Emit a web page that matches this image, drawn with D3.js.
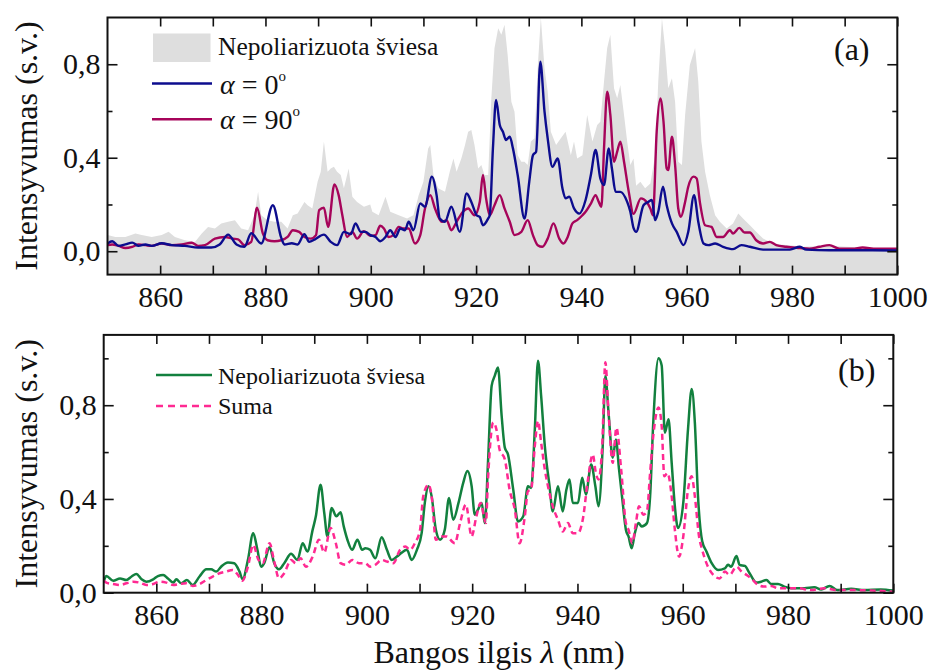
<!DOCTYPE html>
<html>
<head>
<meta charset="utf-8">
<script src="https://cdn.jsdelivr.net/npm/d3@7"></script>
<style>
    body { margin: 0; background: #fff; }
    text, tspan { font-family: "Liberation Serif", "Times New Roman", "DejaVu Serif", serif !important; }
</style>
</head>
<body>
<svg id="chart" width="931" height="670"></svg>
<script>
const SERIF = '"Liberation Serif", "Times New Roman", "DejaVu Serif", serif';

// Tick values
const xLabelTicks = [860, 880, 900, 920, 940, 960, 980, 1000];
const xMinorTicks = [870, 890, 910, 930, 950, 970, 990];
const yLabelTicks = [0, 0.4, 0.8];
const yMinorTicksA = [0.2, 0.6];
const yMinorTicksB = [0.2, 0.6, 1.0];

// Panel (a): unpolarized light (grey area), alpha = 0 deg, alpha = 90 deg  [nm, intensity]
const unpolarizedA = [[850,0.069],[851.5,0.061],[853.4,0.061],[855.3,0.076],[856.5,0.069],[858.4,0.061],[860.3,0.069],[861.6,0.083],[862.8,0.061],[864.7,0.047],[866.6,0.04],[867.9,0.076],[869.1,0.104],[870.4,0.097],[871.6,0.119],[872.9,0.126],[874.2,0.133],[875.4,0.097],[876.7,0.09],[877.9,0.154],[878.6,0.254],[879.2,0.154],[880.4,0.133],[881.7,0.126],[883.0,0.126],[884.2,0.097],[885.2,0.154],[886.1,0.161],[887.4,0.211],[888.0,0.197],[888.9,0.183],[889.9,0.297],[890.5,0.34],[891.1,0.469],[891.8,0.34],[892.4,0.354],[893.0,0.361],[893.6,0.34],[894.3,0.326],[894.9,0.269],[895.8,0.354],[896.5,0.233],[897.4,0.211],[898.7,0.19],[899.9,0.2],[900.3,0.169],[901.5,0.154],[902.8,0.233],[903.7,0.169],[905.3,0.154],[906.9,0.14],[908.1,0.154],[909.1,0.24],[910.0,0.297],[910.9,0.44],[911.3,0.454],[911.9,0.326],[912.8,0.269],[914.1,0.254],[915.0,0.34],[915.7,0.397],[916.3,0.34],[917.2,0.397],[917.9,0.454],[918.5,0.511],[919.1,0.519],[919.7,0.454],[920.4,0.354],[921.0,0.369],[921.6,0.326],[922.3,0.326],[922.9,0.654],[923.5,0.869],[924.2,0.954],[924.8,0.926],[925.4,0.969],[926.0,0.84],[926.7,0.64],[927.3,0.597],[927.9,0.411],[928.6,0.383],[929.2,0.383],[929.8,0.369],[930.4,0.469],[931.1,0.483],[931.7,0.783],[932.3,1.0],[933.0,0.783],[933.6,0.683],[934.2,0.511],[935.2,0.454],[936.1,0.483],[937.0,0.511],[938.0,0.411],[938.6,0.469],[939.2,0.397],[940.2,0.411],[941.1,0.583],[942.1,0.469],[943.0,0.54],[943.6,0.554],[944.3,0.726],[944.9,0.869],[945.5,0.926],[946.2,0.697],[946.8,0.654],[947.4,0.711],[948.1,0.583],[948.7,0.469],[949.3,0.369],[949.9,0.397],[950.4,0.28],[951.2,0.297],[952.1,0.269],[953.1,0.29],[954.0,0.411],[954.6,0.726],[955.3,0.997],[955.9,0.869],[956.5,0.697],[957.2,0.74],[957.8,0.64],[958.4,0.383],[959.1,0.369],[959.7,0.583],[960.6,0.797],[961.6,0.869],[962.2,0.726],[962.8,0.469],[963.5,0.34],[964.4,0.24],[965.4,0.154],[966.3,0.126],[967.6,0.097],[968.8,0.119],[969.8,0.161],[970.7,0.14],[972.0,0.111],[973.2,0.083],[974.5,0.054],[975.8,0.04],[977.7,0.029],[979.6,0.026],[982.1,0.019],[984.6,0.021],[987.1,0.023],[990.3,0.019],[993.4,0.016],[1000,0.011]];

const alpha0 = [[850,0.033],[850.9,0.043],[852.1,0.023],[853.4,0.029],[854.7,0.037],[855.9,0.023],[857.2,0.029],[858.4,0.023],[860.3,0.034],[862.2,0.026],[864.7,0.023],[867.2,0.016],[869.7,0.016],[871.3,0.029],[872.9,0.071],[874.5,0.029],[876.0,0.019],[877.3,0.077],[879.2,0.033],[881.4,0.197],[883.0,0.057],[883.6,0.029],[885.0,0.034],[886.1,0.029],[887.4,0.073],[888.3,0.04],[889.4,0.051],[891.1,0.071],[892.4,0.04],[893.6,0.026],[894.9,0.083],[896.2,0.073],[897.1,0.119],[898.1,0.083],[899.0,0.083],[899.9,0.069],[900.9,0.061],[901.8,0.043],[902.8,0.061],[903.7,0.09],[904.7,0.061],[905.6,0.097],[906.5,0.09],[907.2,0.126],[908.1,0.09],[909.4,0.204],[910.3,0.19],[911.6,0.319],[912.5,0.24],[913.1,0.14],[914.1,0.126],[915.3,0.19],[916.9,0.083],[918.2,0.247],[919.1,0.211],[920.1,0.154],[920.7,0.147],[921.3,0.111],[922.3,0.14],[922.6,0.154],[923.2,0.44],[923.8,0.647],[924.5,0.54],[925.1,0.511],[925.7,0.476],[926.4,0.49],[927.0,0.44],[927.9,0.326],[929.2,0.14],[930.1,0.297],[930.8,0.411],[931.4,0.426],[932.2,0.811],[933.0,0.597],[933.6,0.483],[934.5,0.361],[935.5,0.397],[936.4,0.269],[937.0,0.226],[937.7,0.233],[938.6,0.183],[939.6,0.161],[940.8,0.219],[941.8,0.326],[942.7,0.433],[943.6,0.311],[944.3,0.283],[945.2,0.44],[945.8,0.354],[946.5,0.254],[947.4,0.254],[948.7,0.211],[949.3,0.169],[949.9,0.1],[950.4,0.083],[951.8,0.197],[952.7,0.211],[953.4,0.219],[954.0,0.133],[954.6,0.169],[955.5,0.276],[956.2,0.197],[957.2,0.119],[958.1,0.083],[959.4,0.026],[960.3,0.083],[961.4,0.24],[962.2,0.126],[963.2,0.033],[964.1,0.026],[965.4,0.033],[966.9,0.019],[968.8,0.009],[970.4,0.026],[972.0,0.019],[974.5,0.007],[977.0,0.007],[979.6,0.007],[981.5,0.019],[982.7,0.007],[987.1,0.004],[993.4,0.004],[1000,0.003]];

const alpha90 = [[850,0.026],[850.9,0.029],[852.1,0.023],[853.4,0.014],[854.7,0.019],[855.9,0.029],[857.2,0.026],[858.4,0.023],[860.3,0.033],[862.2,0.026],[864.1,0.029],[866.0,0.036],[867.2,0.023],[868.5,0.026],[870.4,0.054],[872.3,0.061],[873.8,0.054],[874.8,0.051],[876.0,0.026],[877.3,0.04],[878.4,0.186],[879.5,0.076],[880.4,0.047],[881.7,0.043],[883.0,0.047],[884.2,0.061],[885.2,0.09],[886.4,0.083],[887.4,0.061],[888.6,0.054],[889.6,0.069],[890.2,0.176],[891.1,0.186],[891.9,0.104],[893.1,0.286],[893.9,0.24],[894.6,0.154],[895.5,0.061],[896.5,0.083],[897.4,0.054],[898.7,0.086],[899.9,0.066],[900.9,0.069],[901.8,0.109],[902.5,0.097],[903.4,0.061],[904.3,0.069],[905.3,0.104],[906.2,0.097],[907.2,0.097],[908.4,0.033],[909.4,0.069],[910.3,0.183],[911.3,0.24],[912.2,0.183],[913.5,0.126],[914.4,0.133],[915.3,0.09],[916.3,0.126],[917.5,0.169],[918.5,0.183],[919.7,0.154],[920.7,0.211],[921.3,0.326],[921.9,0.226],[922.6,0.154],[923.5,0.197],[924.5,0.24],[925.4,0.183],[926.4,0.126],[927.3,0.069],[928.6,0.083],[929.8,0.133],[930.8,0.069],[931.7,0.026],[932.6,0.019],[933.6,0.054],[934.7,0.119],[935.8,0.054],[936.6,0.033],[937.4,0.061],[938.3,0.119],[939.2,0.133],[940.2,0.154],[940.8,0.169],[941.8,0.204],[942.7,0.24],[943.3,0.211],[943.8,0.19],[944.3,0.44],[944.9,0.683],[945.5,0.583],[946.2,0.383],[946.8,0.426],[947.4,0.469],[948.1,0.383],[949.0,0.254],[949.9,0.16],[951.3,0.226],[952.4,0.211],[953.1,0.183],[953.6,0.154],[954.3,0.511],[955.0,0.654],[955.6,0.554],[956.2,0.354],[956.5,0.347],[957.2,0.49],[957.8,0.369],[958.4,0.183],[958.9,0.147],[959.7,0.211],[960.3,0.276],[961.3,0.319],[961.9,0.311],[962.5,0.211],[963.5,0.111],[964.7,0.104],[965.7,0.061],[966.9,0.061],[968.2,0.09],[968.8,0.076],[970.0,0.1],[971.0,0.08],[972.0,0.08],[973.2,0.047],[974.5,0.033],[975.8,0.04],[977.0,0.026],[978.9,0.019],[981.5,0.014],[983.3,0.011],[985.2,0.019],[987.1,0.026],[989.0,0.011],[991.5,0.011],[993.4,0.016],[996.0,0.011],[1000,0.011]];

// Panel (b): unpolarized light and sum  [nm, intensity]
const unpolarizedB = [[850,0.047],[850.5,0.071],[851.8,0.051],[853.1,0.061],[854.3,0.054],[855.3,0.069],[856.2,0.08],[857.2,0.057],[858.1,0.047],[859.4,0.057],[860.3,0.071],[861.3,0.076],[862.2,0.061],[863.2,0.043],[863.8,0.057],[864.7,0.04],[865.8,0.054],[866.9,0.033],[868.2,0.069],[869.5,0.1],[870.4,0.1],[871.4,0.09],[872.3,0.111],[873.6,0.129],[874.8,0.126],[875.8,0.09],[876.4,0.057],[877.4,0.14],[878.4,0.254],[879.2,0.183],[879.9,0.111],[880.5,0.126],[881.5,0.194],[882.4,0.126],[883.3,0.1],[884.3,0.126],[885.6,0.166],[886.8,0.14],[887.8,0.211],[888.7,0.176],[889.7,0.269],[890.3,0.326],[891.2,0.461],[891.9,0.34],[892.5,0.24],[893.3,0.361],[894.2,0.326],[895.0,0.343],[895.6,0.283],[896.3,0.226],[897.2,0.183],[898.2,0.226],[899.1,0.183],[899.7,0.19],[900.6,0.183],[901.6,0.147],[902.8,0.237],[903.8,0.183],[904.7,0.14],[905.7,0.154],[906.6,0.171],[907.6,0.183],[908.5,0.14],[909.5,0.183],[910.4,0.254],[911.0,0.383],[911.7,0.454],[912.3,0.411],[913.1,0.269],[913.9,0.226],[914.8,0.269],[915.6,0.404],[916.4,0.311],[917.4,0.383],[918.3,0.469],[919.1,0.519],[919.9,0.454],[920.5,0.333],[921.1,0.354],[921.8,0.383],[922.4,0.297],[923.0,0.554],[923.7,0.883],[924.3,0.926],[924.9,0.961],[925.6,0.754],[926.2,0.619],[926.8,0.59],[927.8,0.44],[928.7,0.304],[929.7,0.326],[930.6,0.454],[931.2,0.447],[931.9,0.697],[932.5,0.99],[933.1,0.84],[933.8,0.626],[934.7,0.454],[935.3,0.347],[936.3,0.454],[937.2,0.347],[937.9,0.44],[938.5,0.483],[939.1,0.383],[940.1,0.383],[940.9,0.49],[941.6,0.419],[942.6,0.547],[943.4,0.454],[944.0,0.369],[944.8,0.626],[945.3,0.926],[945.9,0.769],[946.7,0.576],[947.3,0.654],[947.9,0.526],[948.6,0.383],[949.2,0.269],[949.7,0.24],[950.3,0.19],[950.9,0.254],[951.6,0.297],[952.2,0.283],[953.2,0.297],[953.8,0.411],[954.4,0.726],[955.4,1.0],[956.0,0.969],[956.6,0.683],[957.3,0.74],[957.9,0.554],[958.5,0.369],[959.1,0.276],[960.1,0.383],[961.0,0.697],[961.7,0.869],[962.3,0.726],[962.9,0.411],[963.7,0.219],[964.5,0.176],[965.5,0.126],[966.7,0.097],[968.0,0.104],[968.6,0.119],[969.2,0.111],[970.2,0.157],[970.8,0.119],[971.8,0.114],[972.7,0.083],[974.0,0.043],[974.9,0.047],[975.9,0.054],[976.8,0.037],[978.1,0.037],[979.3,0.026],[980.6,0.019],[983.1,0.019],[985.0,0.023],[986.3,0.014],[987.9,0.029],[989.4,0.011],[992.0,0.017],[994.5,0.011],[997.6,0.014],[1000,0.009]];

const sumB = [[850,0.051],[850.5,0.043],[851.8,0.037],[853.1,0.033],[854.3,0.04],[855.6,0.047],[856.8,0.043],[858.1,0.033],[859.4,0.037],[860.6,0.047],[861.9,0.043],[863.2,0.033],[864.4,0.037],[865.7,0.04],[866.9,0.029],[868.2,0.037],[869.5,0.054],[870.7,0.069],[872.0,0.083],[873.2,0.09],[874.5,0.097],[875.5,0.076],[876.3,0.051],[877.4,0.111],[878.4,0.204],[879.4,0.14],[880.2,0.126],[881.5,0.211],[882.4,0.133],[883.3,0.061],[884.3,0.083],[885.6,0.14],[886.5,0.126],[887.4,0.147],[888.4,0.111],[889.7,0.154],[890.9,0.226],[891.9,0.171],[893.1,0.276],[894.1,0.211],[895.0,0.126],[896.0,0.119],[897.2,0.14],[898.5,0.126],[899.7,0.126],[900.6,0.111],[901.6,0.119],[902.8,0.14],[903.8,0.133],[905.0,0.126],[906.3,0.183],[907.3,0.197],[908.2,0.183],[909.1,0.211],[910.1,0.269],[910.7,0.411],[911.7,0.461],[912.3,0.411],[913.1,0.226],[914.2,0.24],[915.1,0.24],[916.7,0.211],[917.7,0.297],[918.8,0.376],[919.9,0.24],[920.8,0.326],[921.6,0.383],[922.6,0.297],[923.0,0.483],[924.0,0.726],[924.6,0.697],[925.2,0.611],[926.2,0.569],[927.1,0.44],[928.1,0.354],[929.0,0.211],[930.0,0.326],[930.6,0.433],[931.2,0.44],[931.9,0.626],[932.5,0.733],[933.1,0.64],[933.8,0.526],[934.4,0.454],[935.3,0.369],[936.3,0.311],[937.2,0.261],[938.2,0.297],[939.1,0.254],[940.1,0.254],[941.0,0.311],[942.0,0.483],[942.9,0.59],[943.5,0.511],[944.0,0.483],[944.7,0.626],[945.3,0.983],[945.9,0.769],[946.7,0.554],[947.4,0.704],[948.3,0.526],[949.2,0.297],[949.7,0.269],[950.4,0.211],[951.1,0.297],[951.7,0.369],[952.5,0.333],[953.2,0.347],[953.8,0.511],[954.4,0.669],[955.4,0.79],[956.0,0.711],[956.5,0.497],[957.1,0.511],[957.9,0.411],[958.5,0.269],[959.3,0.154],[960.1,0.24],[961.0,0.44],[961.7,0.497],[962.3,0.411],[963.1,0.24],[963.7,0.183],[964.5,0.126],[965.8,0.076],[967.0,0.061],[968.0,0.09],[968.9,0.076],[970.2,0.111],[971.2,0.09],[972.1,0.076],[973.0,0.061],[974.3,0.033],[975.5,0.026],[976.8,0.029],[978.1,0.019],[979.3,0.019],[981.9,0.019],[984.4,0.011],[986.9,0.019],[989.4,0.011],[993.2,0.011],[1000,0.004]];

const colors = {
    grey: "#dedede",
    blue: "#0c0c8e",
    red: "#a6045a",
    green: "#12803e",
    pink: "#ff2a92"
};

const svg = d3.select("#chart");
svg.append("rect").attr("width", 931).attr("height", 670).attr("fill", "#fff");

const fmt = d => d3.format(".1f")(d).replace(".", ",");

// helper for serif text
function label(x, y, size) {
    return svg.append("text")
        .attr("x", x).attr("y", y)
        .attr("font-family", SERIF)
        .attr("fill", "#111")
        .style("font-family", SERIF)
        .style("font-size", size + "px");
}

// Build one panel: scales, clip, ticks. Returns scales and a clipped group for data.
function makePanel(id, box, yDomain, yMinor) {
    const x = d3.scaleLinear().domain([850, 1000]).range([box.left, box.right]);
    const y = d3.scaleLinear().domain(yDomain).range([box.bottom, box.top]);

    svg.append("clipPath").attr("id", id)
        .append("rect")
        .attr("x", box.left).attr("y", box.top)
        .attr("width", box.right - box.left).attr("height", box.bottom - box.top);

    const plot = svg.append("g").attr("clip-path", `url(#${id})`);
    const axes = svg.append("g");

    // Bottom axis with labels, ticks inward
    axes.append("g")
        .attr("transform", `translate(0,${box.bottom})`)
        .call(d3.axisBottom(x).tickValues(xLabelTicks).tickSize(-9).tickPadding(11).tickFormat(d3.format("d")));
    axes.append("g")
        .attr("transform", `translate(0,${box.bottom})`)
        .call(d3.axisBottom(x).tickValues(xMinorTicks).tickSize(-9).tickFormat(""));
    // Top axis, ticks only
    axes.append("g")
        .attr("transform", `translate(0,${box.top})`)
        .call(d3.axisTop(x).tickValues(xLabelTicks.concat(xMinorTicks)).tickSize(-9).tickFormat(""));
    // Left axis with labels
    axes.append("g")
        .attr("transform", `translate(${box.left},0)`)
        .call(d3.axisLeft(y).tickValues(yLabelTicks).tickSize(-10).tickPadding(7).tickFormat(fmt));
    axes.append("g")
        .attr("transform", `translate(${box.left},0)`)
        .call(d3.axisLeft(y).tickValues(yMinor).tickSize(-5).tickFormat(""));
    // Right axis, ticks only
    axes.append("g")
        .attr("transform", `translate(${box.right},0)`)
        .call(d3.axisRight(y).tickValues(yLabelTicks).tickSize(-10).tickFormat(""));
    axes.append("g")
        .attr("transform", `translate(${box.right},0)`)
        .call(d3.axisRight(y).tickValues(yMinor).tickSize(-5).tickFormat(""));

    axes.selectAll("g").attr("font-family", SERIF).attr("font-size", 30);
    axes.selectAll(".domain").remove();
    axes.selectAll(".tick line").attr("stroke", "#111").attr("stroke-width", 1.6);
    axes.selectAll(".tick text")
        .attr("fill", "#111")
        .attr("font-family", SERIF)
        .style("font-family", SERIF)
        .style("font-size", "30px");

    // Y axis title
    label(0, 0, 32)
        .attr("transform", `translate(37,${(box.top + box.bottom) / 2}) rotate(-90)`)
        .attr("text-anchor", "middle")
        .text("Intensyvumas (s.v.)");

    return { x, y, plot };
}

// Frame drawn on top of the data
function drawFrame(box) {
    svg.append("rect")
        .attr("x", box.left).attr("y", box.top)
        .attr("width", box.right - box.left).attr("height", box.bottom - box.top)
        .attr("fill", "none").attr("stroke", "#111").attr("stroke-width", 2);
}

// ---------- Panel (a) ----------
const boxA = { left: 107.5, right: 897.3, top: 17.5, bottom: 274.6 };
const pa = makePanel("clipA", boxA, [-0.1, 1.0], yMinorTicksA);

pa.plot.append("path")
    .datum(unpolarizedA)
    .attr("fill", colors.grey)
    .attr("d", d3.area()
        .x(d => pa.x(d[0]))
        .y0(boxA.bottom)
        .y1(d => pa.y(d[1])));

const lineA = d3.line()
    .x(d => pa.x(d[0]))
    .y(d => pa.y(d[1]))
    .curve(d3.curveMonotoneX);

pa.plot.append("path")
    .datum(alpha90)
    .attr("fill", "none")
    .attr("stroke", colors.red)
    .attr("stroke-width", 2.4)
    .attr("d", lineA);

pa.plot.append("path")
    .datum(alpha0)
    .attr("fill", "none")
    .attr("stroke", colors.blue)
    .attr("stroke-width", 2.4)
    .attr("d", lineA);

// Legend (a)
svg.append("rect")
    .attr("x", 153).attr("y", 33.5).attr("width", 57.5).attr("height", 28.5)
    .attr("fill", colors.grey);
label(218, 55, 25.5).text("Nepoliarizuota šviesa");

const alphaLegend = [
    { y: 83.5, color: colors.blue, label: "0" },
    { y: 119.3, color: colors.red, label: "90" }
];
alphaLegend.forEach(d => {
    svg.append("line")
        .attr("x1", 152).attr("x2", 212)
        .attr("y1", d.y).attr("y2", d.y)
        .attr("stroke", d.color).attr("stroke-width", 2.6);
    const t = label(220, d.y + 10, 28);
    t.append("tspan").style("font-style", "italic").text("α");
    t.append("tspan").text(" = " + d.label);
    t.append("tspan").attr("dy", -13).style("font-size", "15px").text("o");
});

label(834, 60, 32).text("(a)");

// ---------- Panel (b) ----------
const boxB = { left: 103.7, right: 893.3, top: 334.9, bottom: 592.7 };
const pb = makePanel("clipB", boxB, [0, 1.1], yMinorTicksB);

const lineB = d3.line()
    .x(d => pb.x(d[0]))
    .y(d => pb.y(d[1]))
    .curve(d3.curveMonotoneX);

pb.plot.append("path")
    .datum(unpolarizedB)
    .attr("fill", "none")
    .attr("stroke", colors.green)
    .attr("stroke-width", 2.5)
    .attr("d", lineB);

pb.plot.append("path")
    .datum(sumB)
    .attr("fill", "none")
    .attr("stroke", colors.pink)
    .attr("stroke-width", 2.5)
    .attr("stroke-dasharray", "6,4")
    .attr("d", lineB);

// Legend (b)
svg.append("line")
    .attr("x1", 156).attr("x2", 212).attr("y1", 375).attr("y2", 375)
    .attr("stroke", colors.green).attr("stroke-width", 2.6);
label(218, 383.5, 24).text("Nepoliarizuota šviesa");
svg.append("line")
    .attr("x1", 156).attr("x2", 212).attr("y1", 406).attr("y2", 406)
    .attr("stroke", colors.pink).attr("stroke-width", 2.6).attr("stroke-dasharray", "7,5");
label(218, 413.5, 24).text("Suma");

label(838, 381, 32).text("(b)");

drawFrame(boxA);
drawFrame(boxB);

// X axis title
const xt = label(499, 663, 32).attr("text-anchor", "middle");
xt.append("tspan").text("Bangos ilgis ");
xt.append("tspan").style("font-style", "italic").text("λ");
xt.append("tspan").text(" (nm)");
</script>
</body>
</html>
